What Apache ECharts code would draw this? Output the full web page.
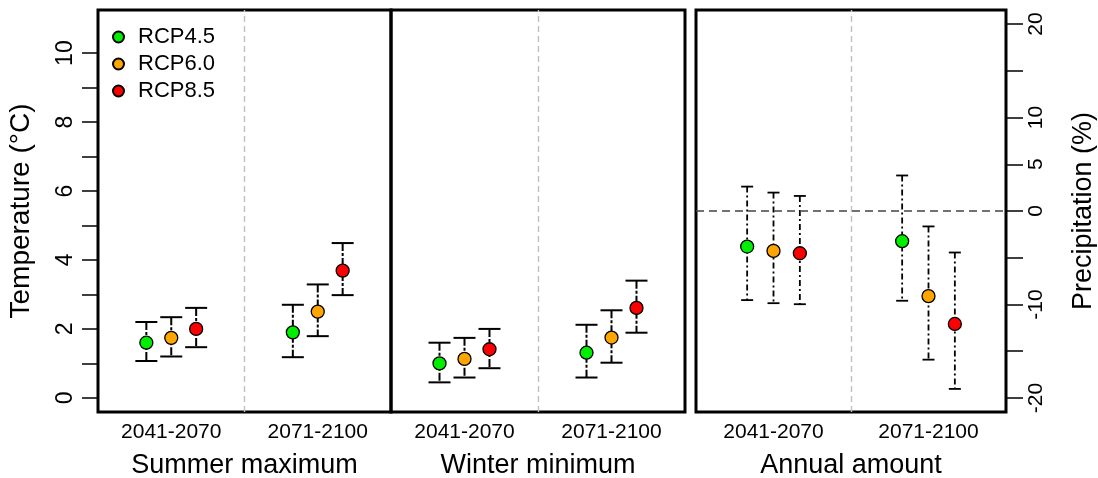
<!DOCTYPE html>
<html>
<head>
<meta charset="utf-8">
<script src="https://cdn.jsdelivr.net/npm/echarts@6/dist/echarts.min.js"></script>
<style>
  html, body { margin: 0; padding: 0; background: #fff; }
  #chart { width: 1098px; height: 478px; }
</style>
</head>
<body>
<div id="chart"></div>
<script>
// ---- Data ----
const periods = ['2041-2070', '2071-2100'];
const scenarios = ['RCP4.5', 'RCP6.0', 'RCP8.5'];
const scenarioColors = ['#00ee00', '#ffa500', '#ff0000'];
const panelTitles = ['Summer maximum', 'Winter minimum', 'Annual amount'];

// rows: scenario (RCP4.5, RCP6.0, RCP8.5); columns: period
const summerMean = [[1.60, 1.90], [1.74, 2.50], [2.00, 3.69]];
const summerLow  = [[1.07, 1.18], [1.20, 1.79], [1.47, 2.98]];
const summerHigh = [[2.20, 2.70], [2.34, 3.29], [2.61, 4.49]];

const winterMean = [[1.00, 1.31], [1.13, 1.75], [1.41, 2.61]];
const winterLow  = [[0.45, 0.59], [0.59, 1.02], [0.86, 1.89]];
const winterHigh = [[1.60, 2.12], [1.74, 2.54], [2.00, 3.40]];

const precipMean = [[-3.80, -3.23], [-4.27, -9.10], [-4.52, -12.08]];
const precipLow  = [[-9.53, -9.60], [-9.86, -15.90], [-9.97, -19.03]];
const precipHigh = [[2.61, 3.80], [1.97, -1.65], [1.61, -4.44]];

const tempTicks = [0, 1, 2, 3, 4, 5, 6, 7, 8, 9, 10];
const tempLabels = [0, 2, 4, 6, 8, 10];
const precipTicks = [-20, -15, -10, -5, 0, 5, 10, 15, 20];
const precipLabels = [-20, -10, 0, 5, 10, 20];

// ---- Build chart ----
const FONT = 'Liberation Sans, Arial, sans-serif';
const OFFSET = 0.34; // horizontal dodge between scenarios (in x-axis units)

function xPos(periodIdx, scenIdx) { return 2 * periodIdx + 1 + (scenIdx - 1) * OFFSET; }

function errRender(capHalf, dash, lw) {
  return function (params, api) {
    const x = api.value(0), lo = api.value(1), hi = api.value(2);
    const pLo = api.coord([x, lo]), pHi = api.coord([x, hi]);
    return {
      type: 'group',
      children: [
        { type: 'line', shape: { x1: pHi[0], y1: pHi[1], x2: pLo[0], y2: pLo[1] },
          style: { stroke: '#000', lineWidth: lw, lineDash: dash } },
        { type: 'line', shape: { x1: pLo[0] - capHalf, y1: pLo[1], x2: pLo[0] + capHalf, y2: pLo[1] },
          style: { stroke: '#000', lineWidth: lw } },
        { type: 'line', shape: { x1: pHi[0] - capHalf, y1: pHi[1], x2: pHi[0] + capHalf, y2: pHi[1] },
          style: { stroke: '#000', lineWidth: lw } }
      ]
    };
  };
}

const panels = [
  { mean: summerMean, low: summerLow, high: summerHigh, cap: 11, dash: [8, 2, 3, 2], lw: 2 },
  { mean: winterMean, low: winterLow, high: winterHigh, cap: 11, dash: [8, 2, 3, 2], lw: 2 },
  { mean: precipMean, low: precipLow, high: precipHigh, cap: 6, dash: [6, 3, 2, 3], lw: 1.8 }
];

const grids = [
  { left: 98, top: 10, width: 293, height: 402 },
  { left: 391, top: 10, width: 294, height: 402 },
  { left: 696, top: 10, width: 310, height: 402 }
].map(g => Object.assign(g, {
  show: true, borderColor: '#000', borderWidth: 3, backgroundColor: 'transparent',
  containLabel: false, outerBoundsMode: 'none'
}));

const xAxes = panelTitles.map((t, i) => ({
  type: 'value', gridIndex: i, min: 0, max: 4, position: 'bottom',
  axisLine: { show: false, onZero: false }, axisTick: { show: false }, splitLine: { show: false },
  axisLabel: {
    customValues: [1, 3], margin: 10, fontSize: 21, color: '#000', fontFamily: FONT,
    formatter: v => periods[Math.round((v - 1) / 2)]
  },
  name: t, nameLocation: 'middle', nameGap: 40,
  nameTextStyle: { fontSize: 27, color: '#000', fontFamily: FONT }
}));

const yAxes = [
  {
    type: 'value', gridIndex: 0, position: 'left', min: -0.41, max: 11.25,
    axisLine: { show: false, onZero: false }, splitLine: { show: false },
    axisTick: { show: true, customValues: tempTicks, length: 16, lineStyle: { color: '#000', width: 1.5 } },
    axisLabel: { customValues: tempLabels, rotate: 90, margin: 21, fontSize: 23, color: '#000', fontFamily: FONT },
    name: 'Temperature (°C)', nameLocation: 'middle', nameGap: 63, nameRotate: 90,
    nameTextStyle: { fontSize: 28, color: '#000', fontFamily: FONT }
  },
  {
    type: 'value', gridIndex: 1, min: -0.41, max: 11.25,
    axisLine: { show: false, onZero: false }, splitLine: { show: false }, axisTick: { show: false }, axisLabel: { show: false }
  },
  {
    type: 'value', gridIndex: 2, position: 'right', min: -21.5, max: 21.5,
    axisLine: { show: false, onZero: false }, splitLine: { show: false },
    axisTick: { show: true, customValues: precipTicks, length: 17, lineStyle: { color: '#000', width: 1.5 } },
    axisLabel: { customValues: precipLabels, rotate: 90, margin: 20, fontSize: 21, color: '#000', fontFamily: FONT },
    name: 'Precipitation (%)', nameLocation: 'middle', nameGap: 64, nameRotate: 90,
    nameTextStyle: { fontSize: 27, color: '#000', fontFamily: FONT }
  }
];

const series = [];
panels.forEach((p, pi) => {
  const errData = [];
  scenarios.forEach((s, si) => {
    periods.forEach((per, ci) => {
      errData.push([xPos(ci, si), p.low[si][ci], p.high[si][ci]]);
    });
  });
  const markData = [
    { xAxis: 2, lineStyle: { color: '#c0c0c0', type: [6, 4], width: 1.4 } }
  ];
  if (pi === 2) {
    markData.push({ yAxis: 0, lineStyle: { color: '#444', type: [8, 5], width: 1.5 } });
  }
  series.push({
    type: 'custom', xAxisIndex: pi, yAxisIndex: pi, silent: true, z: 2,
    renderItem: errRender(p.cap, p.dash, p.lw),
    encode: { x: 0, y: [1, 2] },
    data: errData,
    markLine: { silent: true, symbol: 'none', label: { show: false }, animation: false, data: markData }
  });
  scenarios.forEach((s, si) => {
    series.push({
      type: 'scatter', name: s, xAxisIndex: pi, yAxisIndex: pi, z: 5,
      symbol: 'circle', symbolSize: 13,
      itemStyle: { color: scenarioColors[si], borderColor: '#000', borderWidth: 1.3, opacity: 1 },
      emphasis: { disabled: true },
      data: periods.map((per, ci) => [xPos(ci, si), p.mean[si][ci]])
    });
  });
});

const chart = echarts.init(document.getElementById('chart'), null, { renderer: 'canvas' });
chart.setOption({
  animation: false,
  backgroundColor: '#fff',
  textStyle: { fontFamily: FONT },
  grid: grids,
  xAxis: xAxes,
  yAxis: yAxes,
  legend: {
    data: scenarios, orient: 'vertical', left: 112, top: 26, padding: 0,
    icon: 'circle', itemWidth: 11, itemHeight: 11, itemGap: 5,
    textStyle: { fontSize: 22, color: '#000', fontFamily: FONT, padding: [0, 0, 0, 9] },
    selectedMode: false
  },
  series: series
});
</script>
</body>
</html>
